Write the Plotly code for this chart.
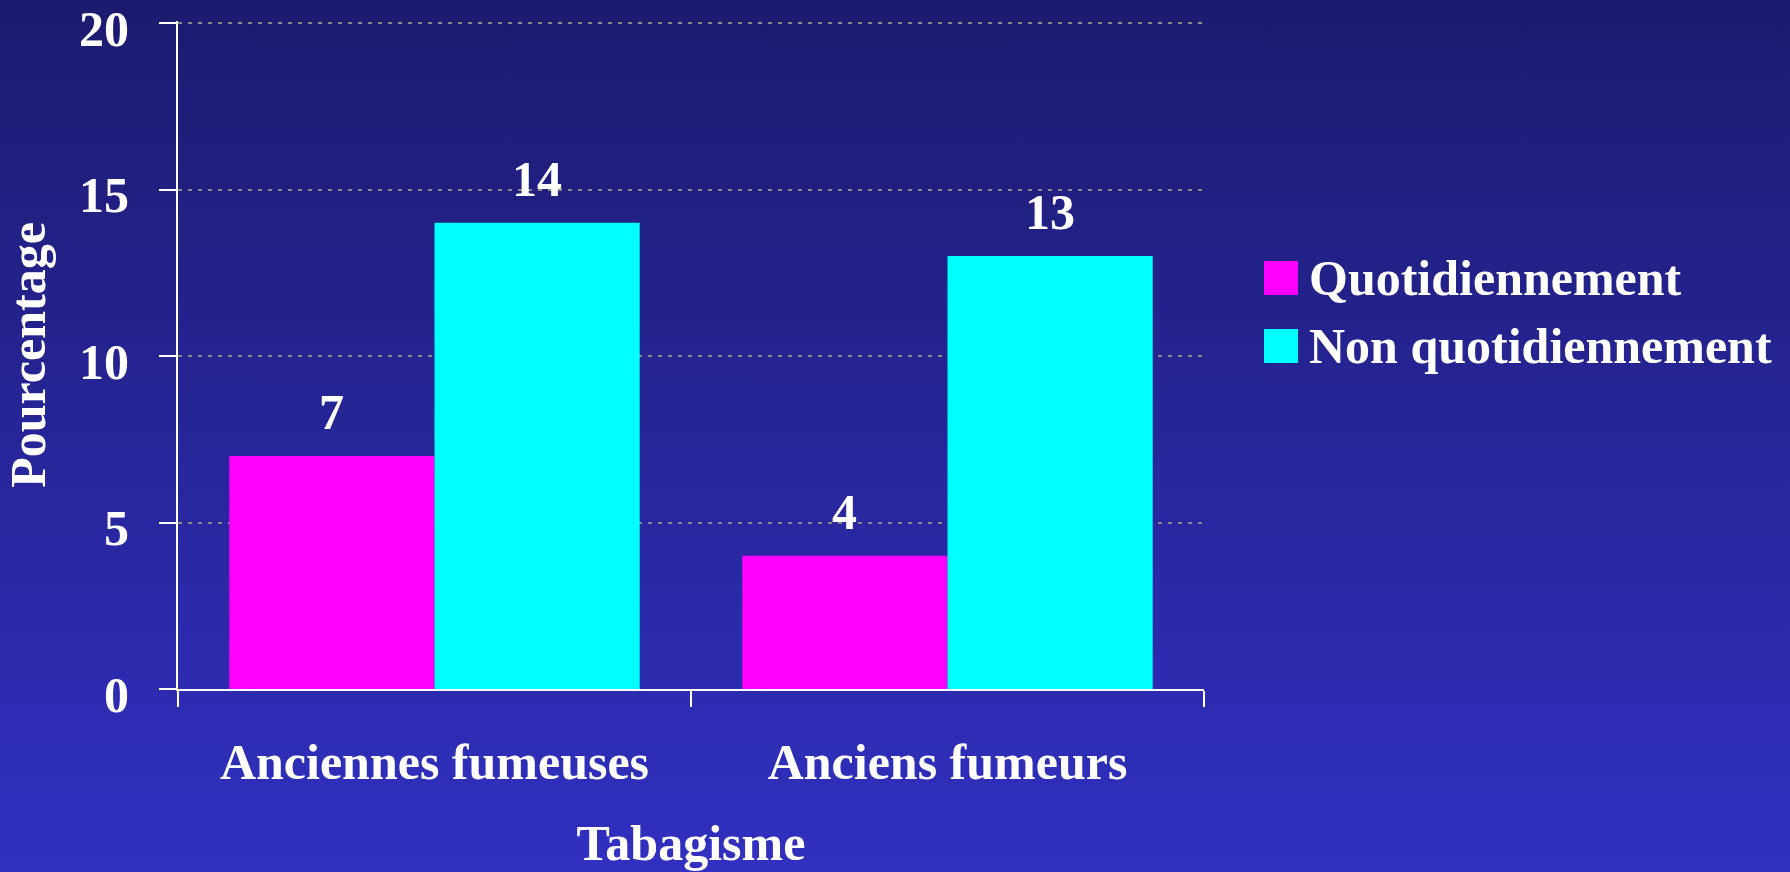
import base64
import plotly.graph_objects as go

# ---- data ----
categories = ["Anciennes fumeuses", "Anciens fumeurs"]
series_names = ["Quotidiennement", "Non quotidiennement"]
quotidien = [7, 4]
non_quotidien = [14, 13]
y_ticks = [0, 5, 10, 15, 20]

colors = ["#ff00ff", "#00ffff"]
FONT = "Liberation Serif, Times New Roman, serif"
W, H = 1790, 872
ML, MR, MT, MB = 178, 586, 21, 183
PW, PH = W - ML - MR, H - MT - MB
BARGAP = 0.2
Y_MAX = 20.06

def px_x(px):
    return (px - ML) / PW

def px_y(py):
    return (H - MB - py) / PH

fig = go.Figure()
for name, vals, col in zip(series_names, [quotidien, non_quotidien], colors):
    fig.add_trace(go.Bar(x=categories, y=vals, name=name, marker_color=col,
                         marker_line_width=0, showlegend=False))

# data labels
bw = (1 - BARGAP) / len(series_names)
annotations = []
for si, vals in enumerate([quotidien, non_quotidien]):
    off = -(1 - BARGAP) / 2 + bw * (si + 0.5)
    for ci, v in enumerate(vals):
        annotations.append(dict(x=ci + off, y=v, xref="x", yref="y", text=str(v),
                                showarrow=False, yanchor="bottom", yshift=14,
                                font=dict(family=FONT, size=50, color="white", weight="bold")))

# manual legend
shapes = []
leg_x0, leg_y0, sq, row = 1264, 261, 34, 68
for i, (name, col) in enumerate(zip(series_names, colors)):
    top = leg_y0 + i * row
    shapes.append(dict(type="rect", xref="paper", yref="paper",
                       x0=px_x(leg_x0), x1=px_x(leg_x0 + sq),
                       y0=px_y(top + sq), y1=px_y(top),
                       fillcolor=col, line_width=0, layer="above"))
    annotations.append(dict(x=px_x(leg_x0 + sq + 9), y=px_y(top + sq / 2), xref="paper", yref="paper",
                            text=name, showarrow=False, xanchor="left", yanchor="middle",
                            font=dict(family=FONT, size=50, color="white", weight="bold")))

svg = ('<svg xmlns="http://www.w3.org/2000/svg" width="100" height="100" preserveAspectRatio="none">'
       '<defs><linearGradient id="g" x1="0" y1="0" x2="0" y2="1">'
       '<stop offset="0" stop-color="#1c1b6f"/><stop offset="1" stop-color="#3130c1"/>'
       '</linearGradient></defs><rect width="100" height="100" fill="url(#g)"/></svg>')
src = "data:image/svg+xml;base64," + base64.b64encode(svg.encode()).decode()

fig.update_layout(
    width=W, height=H,
    margin=dict(l=ML, r=MR, t=MT, b=MB, autoexpand=False),
    barmode="group", bargap=BARGAP, bargroupgap=0,
    paper_bgcolor="#26258f", plot_bgcolor="rgba(0,0,0,0)",
    showlegend=False,
    annotations=annotations, shapes=shapes,
    images=[dict(source=src, xref="paper", yref="paper",
                 x=px_x(0), y=px_y(0), sizex=W / PW, sizey=H / PH,
                 xanchor="left", yanchor="top", sizing="stretch", layer="below")],
    font=dict(family=FONT, size=50, color="white", weight="bold"),
)
fig.update_xaxes(
    showline=True, linecolor="white", linewidth=2,
    ticks="outside", tickson="boundaries", ticklen=16, tickwidth=2, tickcolor="white",
    showgrid=False, ticklabelstandoff=28,
    tickfont=dict(family=FONT, size=50, color="white", weight="bold"),
    title=dict(text="Tabagisme", standoff=36,
               font=dict(family=FONT, size=50, color="white", weight="bold")),
)
fig.update_yaxes(
    range=[0, Y_MAX], tickvals=y_ticks, ticktext=[str(t) for t in y_ticks],
    showline=True, linecolor="white", linewidth=2,
    ticks="outside", ticklen=17, tickwidth=2, tickcolor="white",
    showgrid=True, gridcolor="#8a8a8a", gridwidth=2, griddash="4px,6px",
    zeroline=False, ticklabelstandoff=20, ticklabeloverflow="allow", ticklabelshift=5,
    tickfont=dict(family=FONT, size=50, color="white", weight="bold"),
    title=dict(text="Pourcentage", standoff=20,
               font=dict(family=FONT, size=50, color="white", weight="bold")),
)
fig.write_html("out.html", config={"displayModeBar": False},
               post_script="document.body.style.margin='0';document.body.style.overflow='hidden';")
